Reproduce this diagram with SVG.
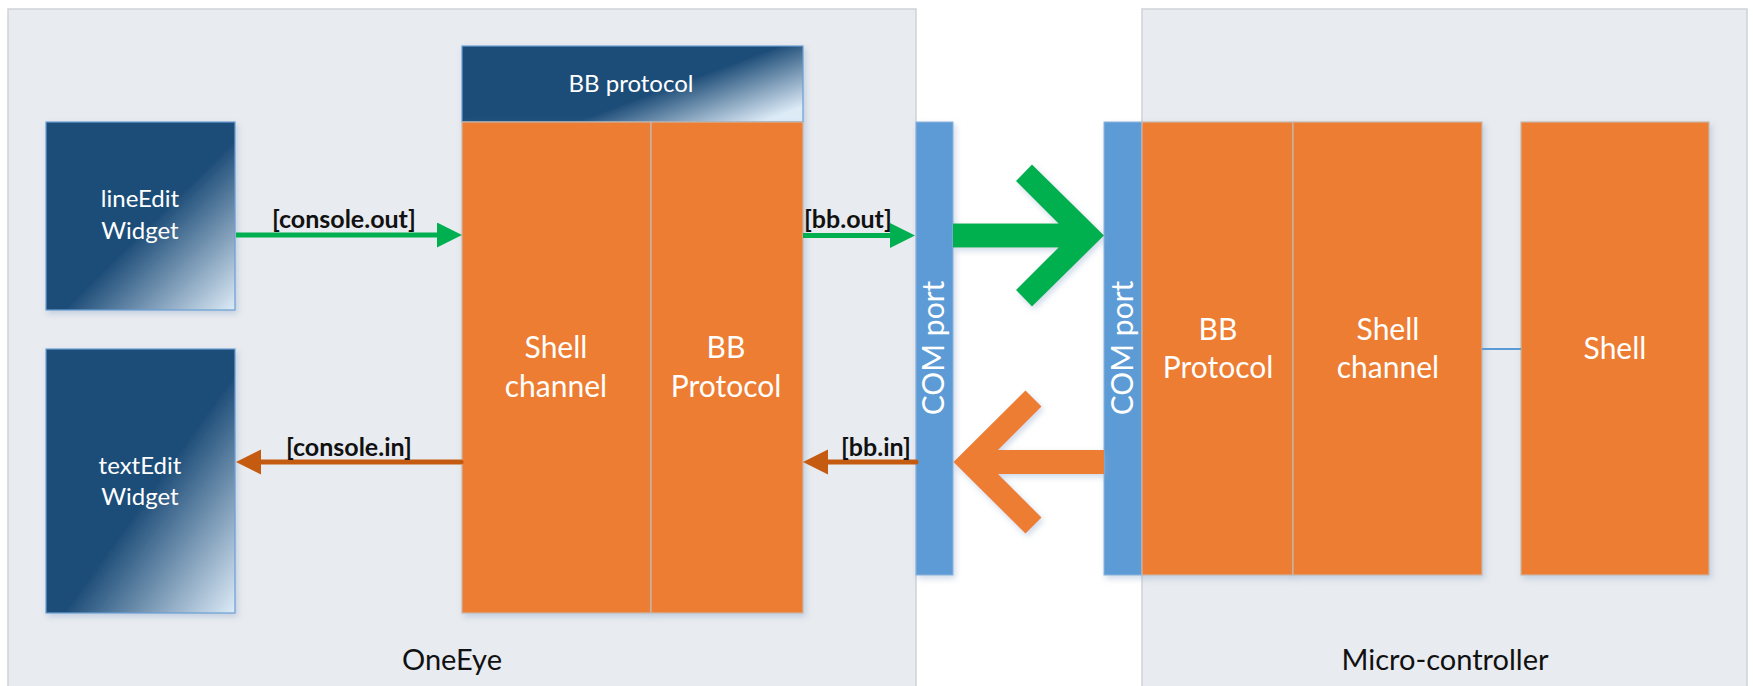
<svg xmlns="http://www.w3.org/2000/svg" width="1753" height="686" viewBox="0 0 1753 686">
<defs>
<style>
.cont{fill:#E8EBEF;stroke:#CFD2D6;stroke-width:1.5}
.orange{fill:#ED7D31;stroke:#C9B8AA;stroke-width:1.2}
.com{fill:#5B9BD5;stroke:#8DB4DC;stroke-width:1}
.widget{stroke:#6A9FD4;stroke-width:1.2}
.lbl{font-family:Lato,"Open Sans","Liberation Sans",sans-serif;fill:#FFFFFF;text-anchor:middle}
.big{font-size:30px}
.wt{font-size:24px}
.cap{font-family:Lato,"Open Sans","Liberation Sans",sans-serif;fill:#111111;font-size:29px;text-anchor:middle}
.el{font-family:Lato,"Open Sans","Liberation Sans",sans-serif;font-weight:bold;font-size:25px;fill:#111111}
.gl{stroke:#00B050;stroke-width:5;fill:none}
.ol{stroke:#C55A11;stroke-width:5;fill:none;stroke-linecap:round}
</style>
<linearGradient id="wg" x1="0" y1="0" x2="1" y2="1">
<stop offset="0" stop-color="#1F4E79"/>
<stop offset="0.55" stop-color="#1F4E79"/>
<stop offset="1" stop-color="#DDEBF7"/>
</linearGradient>
<linearGradient id="hg" x1="0" y1="0.2" x2="1" y2="0.8">
<stop offset="0" stop-color="#1F4E79"/>
<stop offset="0.6" stop-color="#1F4E79"/>
<stop offset="1" stop-color="#DDEBF7"/>
</linearGradient>
<filter id="sh" x="-10%" y="-10%" width="130%" height="130%">
<feDropShadow dx="2" dy="3" stdDeviation="3" flood-color="#8FAACC" flood-opacity="0.45"/>
</filter>
<marker id="ag" markerUnits="userSpaceOnUse" markerWidth="26" markerHeight="26" refX="5" refY="12.5" orient="auto">
<path d="M0,0 L25,12.5 L0,25 Z" fill="#00B050"/>
</marker>
<marker id="ao" markerUnits="userSpaceOnUse" markerWidth="26" markerHeight="26" refX="5" refY="12.5" orient="auto">
<path d="M0,0 L25,12.5 L0,25 Z" fill="#C55A11"/>
</marker>
</defs>

<rect width="1753" height="686" fill="#FFFFFF"/>

<g id="oneeye">
<rect class="cont" x="8" y="9" width="908" height="700"/>
<text class="cap" x="452" y="670">OneEye</text>
</g>
<g id="microcontroller">
<rect class="cont" x="1142" y="9" width="605" height="700"/>
<text class="cap" x="1445" y="670">Micro-controller</text>
</g>

<g id="lineEdit">
<rect class="widget" x="46" y="122" width="189" height="188" fill="url(#wg)" filter="url(#sh)"/>
<text class="lbl wt" x="140" y="207">lineEdit</text>
<text class="lbl wt" x="140" y="239">Widget</text>
</g>
<g id="textEdit">
<rect class="widget" x="46" y="349" width="189" height="264" fill="url(#wg)" filter="url(#sh)"/>
<text class="lbl wt" x="140" y="474">textEdit</text>
<text class="lbl wt" x="140" y="505">Widget</text>
</g>

<g id="bbProtocolHeader">
<rect class="widget" x="462" y="46" width="341" height="76" fill="url(#hg)" filter="url(#sh)"/>
<text class="lbl wt" x="631" y="92">BB protocol</text>
</g>
<g id="shellChannelLeft">
<rect class="orange" x="462" y="122" width="189" height="491" filter="url(#sh)"/>
<text class="lbl big" x="556" y="358">Shell</text>
<text class="lbl big" x="556" y="397">channel</text>
</g>
<g id="bbProtocolLeft">
<rect class="orange" x="651" y="122" width="152" height="491" filter="url(#sh)"/>
<text class="lbl big" x="726" y="358">BB</text>
<text class="lbl big" x="726" y="397">Protocol</text>
</g>

<g id="comPortLeft">
<rect class="com" x="916" y="122" width="37" height="453" filter="url(#sh)"/>
<text class="lbl big" x="944" y="348" transform="rotate(-90 944 348)">COM port</text>
</g>
<g id="comPortRight">
<rect class="com" x="1104" y="122" width="38" height="453" filter="url(#sh)"/>
<text class="lbl big" x="1133" y="348" transform="rotate(-90 1133 348)">COM port</text>
</g>

<g id="bbProtocolRight">
<rect class="orange" x="1142" y="122" width="151" height="453" filter="url(#sh)"/>
<text class="lbl big" x="1218" y="340">BB</text>
<text class="lbl big" x="1218" y="378">Protocol</text>
</g>
<g id="shellChannelRight">
<rect class="orange" x="1293" y="122" width="189" height="453" filter="url(#sh)"/>
<text class="lbl big" x="1388" y="340">Shell</text>
<text class="lbl big" x="1388" y="378">channel</text>
</g>
<g id="shell">
<rect class="orange" x="1521" y="122" width="188" height="453" filter="url(#sh)"/>
<text class="lbl big" x="1615" y="359">Shell</text>
</g>

<g id="connectors">
<line class="gl" x1="236" y1="235" x2="442" y2="235" marker-end="url(#ag)"/>
<text class="el" x="272" y="228">[console.out]</text>
<line class="gl" x1="803" y1="235.5" x2="895" y2="235.5" marker-end="url(#ag)"/>
<text class="el" x="804" y="228">[bb.out]</text>
<line class="ol" x1="461" y1="462" x2="256" y2="462" marker-end="url(#ao)"/>
<text class="el" x="286" y="456">[console.in]</text>
<line class="ol" x1="916" y1="462" x2="823" y2="462" marker-end="url(#ao)"/>
<text class="el" x="841" y="456">[bb.in]</text>
<polygon points="953,223.5 1058.5,223.5 1016,181 1032,164.5 1104,235.5 1032,306.5 1016,290 1058.5,247.5 953,247.5" fill="#00B050" filter="url(#sh)"/>
<polygon points="1104,450 998,450 1041.5,406.5 1025.5,390.5 953.5,462 1025.5,533.5 1041.5,517.5 998,474 1104,474" fill="#ED7D31" filter="url(#sh)"/>
<line x1="1482" y1="349" x2="1521" y2="349" stroke="#5B9BD5" stroke-width="2"/>
</g>
</svg>
